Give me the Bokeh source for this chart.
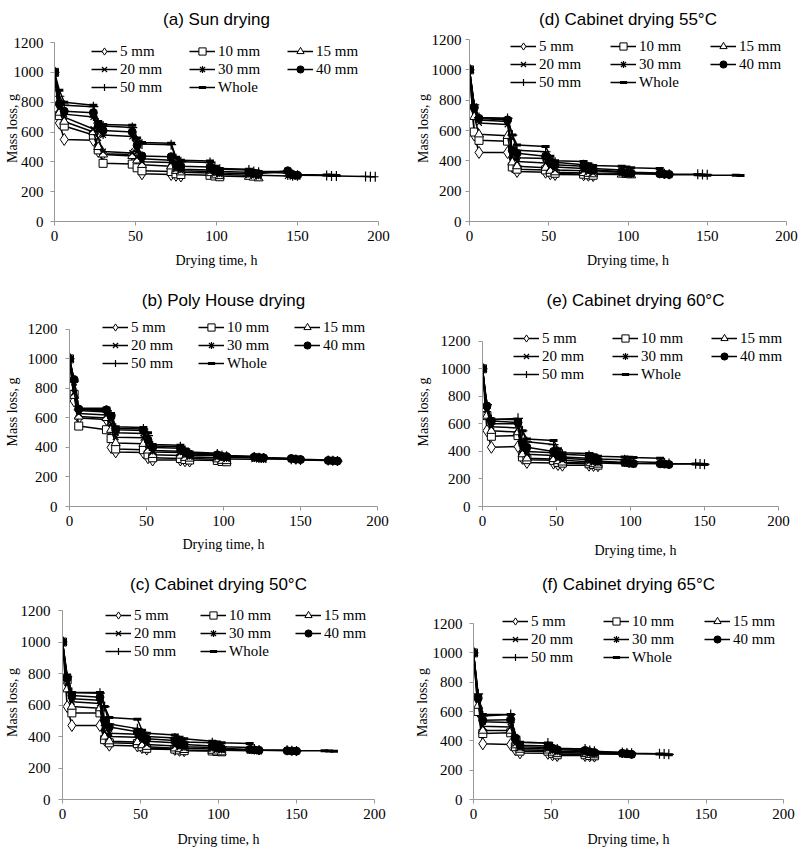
from bokeh.plotting import figure
from bokeh.layouts import column, row
from bokeh.models import Range1d, FixedTicker, Legend, LegendItem
from bokeh.embed import file_html
from bokeh.resources import INLINE

# ---------------- data ----------------
T = [0, 3, 6, 24, 27, 30, 48, 51, 54, 72, 75, 78, 96, 99, 102, 120, 123, 126,
     144, 147, 150, 168, 171, 174, 192, 195, 198]
LABELS = ["5 mm", "10 mm", "15 mm", "20 mm", "30 mm", "40 mm", "50 mm", "Whole"]
X_TICKS = [0, 50, 100, 150, 200]
Y_TICKS = [0, 200, 400, 600, 800, 1000, 1200]

# (a) Sun drying
SUN_5 = [1000, 660, 550, 545, 470, 455, 450, 380, 320, 315, 310, 305]
SUN_10 = [1000, 710, 640, 580, 480, 390, 385, 360, 340, 335, 320, 315, 310, 305, 300]
SUN_15 = [1000, 730, 670, 600, 500, 450, 440, 410, 380, 370, 340, 330, 325, 310, 305, 300, 295, 290]
SUN_20 = [1000, 760, 700, 620, 560, 470, 460, 430, 400, 395, 350, 340, 335, 320, 315, 310, 305, 300]
SUN_30 = [1000, 780, 720, 700, 610, 580, 570, 470, 420, 410, 360, 350, 345, 330, 325, 320, 315, 310, 305, 300, 300]
SUN_40 = [1000, 790, 740, 730, 640, 610, 600, 510, 440, 435, 380, 370, 365, 340, 335, 330, 325, 320, 340, 315, 310]
SUN_50 = [1000, 840, 780, 770, 660, 640, 630, 540, 520, 515, 420, 400, 395, 370, 350, 345, 335, 330, 325, 315,
          310, 308, 305, 305, 302, 300, 300]
SUN_W = [1000, 880, 800, 780, 670, 650, 645, 560, 530, 525, 430, 410, 405, 370, 355, 350, 340, 335, 335, 320,
         315, 312, 310, 308]

# (b) Poly House drying
POLY_5 = [1000, 715, 600, 590, 400, 370, 365, 330, 315, 315, 310, 308]
POLY_10 = [1000, 760, 545, 520, 460, 390, 385, 350, 330, 325, 318, 315, 312, 305, 303]
POLY_15 = [1000, 750, 610, 600, 520, 430, 425, 380, 350, 345, 330, 325, 320, 310, 308]
POLY_20 = [1000, 770, 630, 620, 560, 470, 465, 400, 370, 365, 345, 335, 330, 325, 322, 320, 318, 315]
POLY_30 = [1000, 840, 650, 640, 600, 500, 495, 440, 380, 375, 355, 345, 345, 335, 330, 330, 325, 322, 320, 318, 315]
POLY_40 = [1000, 860, 660, 655, 610, 520, 515, 450, 400, 395, 370, 355, 350, 340, 338, 335, 332, 330, 325, 320,
           318, 312, 310, 308]
POLY_50 = [1000, 850, 655, 650, 620, 530, 525, 480, 410, 405, 380, 360, 355, 345, 340, 335, 330, 328, 320, 318,
           315, 312, 310, 308]
POLY_W = [1000, 860, 665, 665, 630, 540, 535, 500, 420, 415, 390, 370, 360, 350, 345, 340, 335, 332, 325, 322,
          320, 315, 312, 310]

# (c) Cabinet drying 50 C
C50_5 = [1000, 590, 470, 470, 380, 345, 340, 330, 320, 318, 312, 310]
C50_10 = [1000, 760, 550, 550, 380, 360, 355, 335, 325, 320, 315, 310, 308, 305, 303]
C50_15 = [1000, 700, 590, 580, 400, 370, 365, 345, 335, 325, 320, 315, 310, 305, 300]
C50_20 = [1000, 740, 620, 610, 430, 400, 395, 370, 350, 340, 330, 325, 320, 315, 312, 310, 308, 305]
C50_30 = [1000, 760, 640, 630, 470, 420, 415, 385, 370, 360, 345, 335, 330, 320, 318, 315, 312, 310]
C50_40 = [1000, 770, 660, 650, 500, 460, 430, 400, 385, 375, 360, 350, 340, 330, 325, 318, 315, 312, 310, 308, 307]
C50_50 = [1000, 780, 680, 675, 590, 480, 450, 420, 400, 390, 375, 365, 360, 345, 335, 330, 320, 315, 312, 310, 308]
C50_W = [1000, 790, 680, 680, 590, 520, 510, 440, 420, 410, 395, 385, 370, 365, 360, 355, 320, 315, 312, 310,
         310, 310, 308, 306]

# (d) Cabinet drying 55 C
C55_5 = [1000, 570, 455, 455, 360, 330, 325, 315, 310, 308, 305, 303]
C55_10 = [1000, 590, 535, 530, 360, 345, 340, 325, 318, 312, 308, 305]
C55_15 = [1000, 690, 575, 565, 390, 365, 355, 335, 325, 320, 315, 312, 310, 308, 305]
C55_20 = [1000, 740, 650, 640, 430, 395, 385, 360, 340, 335, 325, 320, 318, 312, 310]
C55_30 = [1000, 760, 670, 660, 460, 420, 415, 380, 360, 350, 340, 335, 325, 318, 315, 312, 310, 308]
C55_40 = [1000, 750, 680, 670, 470, 450, 430, 390, 375, 365, 350, 340, 330, 320, 318, 315, 312, 310]
C55_50 = [1000, 770, 685, 680, 570, 470, 460, 410, 390, 375, 360, 350, 340, 330, 325, 320, 315, 312, 312, 310, 308]
C55_W = [1000, 760, 685, 680, 570, 505, 495, 430, 400, 395, 380, 370, 365, 360, 355, 350, 310, 308, 308, 306,
         305, 305, 304]

# (e) Cabinet drying 60 C
C60_5 = [1000, 550, 430, 435, 350, 320, 315, 305, 300, 300, 298, 296]
C60_10 = [1000, 660, 510, 515, 360, 340, 335, 320, 315, 310, 305, 300]
C60_15 = [1000, 660, 550, 540, 380, 350, 345, 330, 320, 315, 308, 305]
C60_20 = [1000, 700, 580, 570, 410, 380, 370, 345, 335, 325, 318, 315, 310, 308, 305]
C60_30 = [1000, 720, 600, 600, 440, 400, 390, 360, 350, 340, 330, 325, 315, 310, 308]
C60_40 = [1000, 730, 620, 610, 460, 430, 400, 370, 360, 350, 340, 330, 320, 315, 312, 310, 308, 305]
C60_50 = [1000, 740, 630, 640, 550, 470, 450, 400, 380, 370, 355, 345, 340, 330, 325, 320, 315, 312, 310, 308, 306]
C60_W = [1000, 720, 635, 630, 550, 490, 480, 420, 390, 385, 375, 365, 360, 358, 355, 350, 310, 308, 308, 306, 305]

# (f) Cabinet drying 65 C
C65_5 = [1000, 600, 380, 375, 340, 318, 315, 305, 300, 300, 298, 296]
C65_10 = [1000, 600, 450, 455, 360, 330, 330, 315, 305, 305, 300, 298]
C65_15 = [1000, 640, 470, 470, 370, 340, 335, 320, 310, 310, 305, 302]
C65_20 = [1000, 680, 500, 495, 380, 350, 345, 330, 320, 318, 312, 310, 308, 305, 303]
C65_30 = [1000, 700, 530, 525, 400, 360, 355, 340, 330, 325, 320, 315, 312, 310, 305]
C65_40 = [1000, 690, 540, 545, 420, 370, 365, 350, 340, 335, 325, 320, 315, 312, 308]
C65_50 = [1000, 720, 570, 580, 430, 390, 385, 360, 345, 345, 335, 330, 320, 318, 315, 312, 310, 308]
C65_W = [1000, 710, 580, 580, 430, 390, 385, 360, 350, 345, 330, 325, 320, 315, 312, 310, 308, 306]

# ---------------- styling ----------------
MARKERS = [
    dict(marker="diamond", size=12, fill_color="white", line_width=1),
    dict(marker="square", size=8, fill_color="white", line_width=1),
    dict(marker="triangle", size=9, fill_color="white", line_width=1),
    dict(marker="x", size=8, fill_color=None, line_width=1.2),
    dict(marker="asterisk", size=8, fill_color=None, line_width=1.2),
    dict(marker="circle", size=8, fill_color="black", line_width=1),
    dict(marker="cross", size=10, fill_color=None, line_width=1.2),
    dict(marker="dash", size=8, fill_color=None, line_width=3),
]

SERIF = "Liberation Serif"
SANS = "Liberation Sans"
TITLE_H = 20  # approximate rendered height of the 17px title line

# l, r: left/right borders (r measured to x = 200); xr: extra frame px right of x = 200;
# t: pixel offset of the 1200 line from figure top; bot: bottom border;
# ts: title standoff (same within a row); to: title horizontal offset;
# leg: (dx from frame left, first-row centre below 1200 line, column step);
# xs: x-axis label standoff; yts / yls: y tick-label / axis-label standoffs
PANELS = {
    "a": dict(title="(a) Sun drying",
              series=[SUN_5, SUN_10, SUN_15, SUN_20, SUN_30, SUN_40, SUN_50, SUN_W],
              h=280, l=54, r=21, xr=0, t=43, bot=59, ts=14, to=6, leg=(37, 8, 98), xs=9,
              yts=7, yls=-9),
    "d": dict(title="(d) Cabinet drying 55°C",
              series=[C55_5, C55_10, C55_15, C55_20, C55_30, C55_40, C55_50, C55_W],
              h=280, l=70, r=12, xr=0, t=40, bot=59, ts=14, to=-4, leg=(41, 6, 100), xs=9,
              yts=4, yls=-2),
    "b": dict(title="(b) Poly House drying",
              series=[POLY_5, POLY_10, POLY_15, POLY_20, POLY_30, POLY_40, POLY_50, POLY_W],
              h=280, l=69, r=22, xr=0, t=50, bot=51, ts=16, to=4, leg=(33, 0, 96), xs=8,
              yts=8, yls=5),
    "e": dict(title="(e) Cabinet drying 60°C",
              series=[C60_5, C60_10, C60_15, C60_20, C60_30, C60_40, C60_50, C60_W],
              h=280, l=83, r=20, xr=10, t=62, bot=51, ts=16, to=-6, leg=(31, -1, 99), xs=14,
              yts=8, yls=7),
    "c": dict(title="(c) Cabinet drying 50°C",
              series=[C50_5, C50_10, C50_15, C50_20, C50_30, C50_40, C50_50, C50_W],
              h=289, l=62, r=25, xr=0, t=51, bot=50, ts=24, to=9, leg=(43, 4, 95), xs=10,
              yts=8, yls=-2),
    "f": dict(title="(f) Cabinet drying 65°C",
              series=[C65_5, C65_10, C65_15, C65_20, C65_30, C65_40, C65_50, C65_W],
              h=289, l=74, r=15, xr=0, t=64, bot=50, ts=24, to=-6, leg=(29, -3, 101), xs=10,
              yts=7, yls=0),
}

FIG_W = 399
ROW_H = 18


def make_panel(cfg):
    h = cfg["h"]
    frame_top = 2 + TITLE_H + cfg["ts"]
    ext = cfg["t"] - frame_top            # pixels of frame above the 1200 line
    data_px = h - cfg["t"] - cfg["bot"]   # pixels between 0 and 1200
    frame_h = data_px + ext
    y_end = 1200.0 * frame_h / data_px
    data_w = FIG_W - cfg["l"] - cfg["r"]  # pixels between x = 0 and x = 200
    x_end = 200.0 * (data_w + cfg["xr"]) / data_w

    p = figure(width=FIG_W, height=h, output_backend="svg", toolbar_location=None,
               x_range=Range1d(0, x_end), y_range=Range1d(0, y_end),
               min_border_left=cfg["l"], min_border_right=cfg["r"] - cfg["xr"],
               min_border_top=0, min_border_bottom=cfg["bot"],
               outline_line_color=None, background_fill_color="white",
               border_fill_color="white")
    p.title.text = cfg["title"]
    p.title.text_font = SANS
    p.title.text_font_size = "17px"
    p.title.text_font_style = "normal"
    p.title.text_color = "black"
    p.title.align = "center"
    p.title.standoff = cfg["ts"]
    p.title.offset = cfg["to"] - cfg["xr"] / 2

    p.xgrid.visible = False
    p.ygrid.visible = False
    for ax in (p.xaxis[0], p.yaxis[0]):
        ax.axis_line_color = "#999999"
        ax.major_tick_line_color = "#999999"
        ax.minor_tick_line_color = None
        ax.major_tick_in = 0
        ax.major_tick_out = 4
        ax.major_label_text_font = SERIF
        ax.major_label_text_font_size = "15px"
        ax.major_label_text_color = "black"
        ax.axis_label_text_font = SERIF
        ax.axis_label_text_font_size = "14px"
        ax.axis_label_text_font_style = "normal"
        ax.axis_label_text_color = "black"
    p.xaxis.ticker = FixedTicker(ticks=X_TICKS)
    p.yaxis.ticker = FixedTicker(ticks=Y_TICKS)
    p.xaxis.bounds = (0, 200)
    p.yaxis.bounds = (0, 1200)
    p.xaxis.axis_label = "Drying time, h"
    p.yaxis.axis_label = "Mass loss, g"
    p.xaxis.major_label_standoff = 5
    p.yaxis.major_label_standoff = cfg["yts"]
    p.xaxis.axis_label_standoff = cfg["xs"]
    p.yaxis.axis_label_standoff = cfg["yls"]

    items = []
    for label, vals, mk in zip(LABELS, cfg["series"], MARKERS):
        xs = T[:len(vals)]
        lr = p.line(xs, vals, line_color="black", line_width=1.5)
        sr = p.scatter(xs, vals, marker=mk["marker"], size=mk["size"],
                       fill_color=mk["fill_color"], line_color="black",
                       line_width=mk["line_width"])
        items.append(LegendItem(label=label, renderers=[lr, sr]))

    dx, dyc, step = cfg["leg"]
    leg_h = 3 * ROW_H
    leg_top = ext + dyc - ROW_H / 2       # from frame top
    legend = Legend(items=items, location=(dx, frame_h - leg_top - leg_h),
                    orientation="horizontal", ncols=3,
                    glyph_width=26, glyph_height=ROW_H, label_height=ROW_H,
                    label_standoff=3, label_width=step - 29, spacing=0,
                    padding=0, margin=0, border_line_alpha=0,
                    background_fill_alpha=0,
                    label_text_font=SERIF, label_text_font_size="15px",
                    label_text_color="black")
    p.add_layout(legend)
    return p


figs = {k: make_panel(v) for k, v in PANELS.items()}
layout = column(row(figs["a"], figs["d"]),
                row(figs["b"], figs["e"]),
                row(figs["c"], figs["f"]))

open("out.html", "w").write(file_html(layout, INLINE))
